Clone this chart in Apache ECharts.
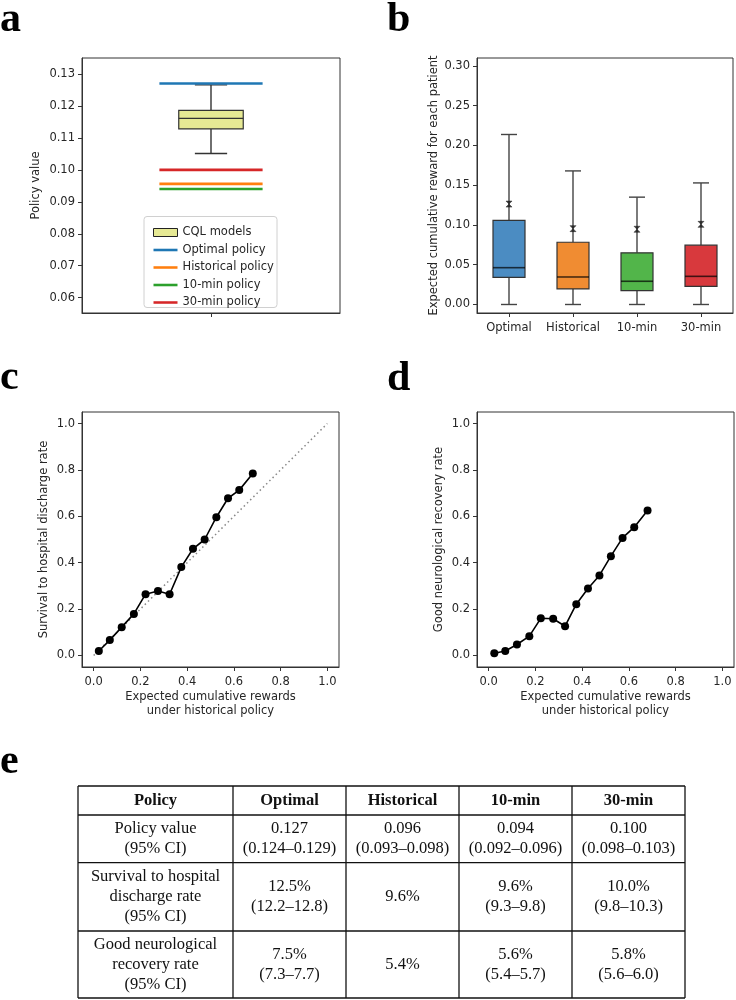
<!DOCTYPE html>
<html><head><meta charset="utf-8">
<script src="https://cdn.jsdelivr.net/npm/echarts@6/dist/echarts.min.js"></script>
<style>html,body{margin:0;padding:0;background:#fff}#c{width:736px;height:1000px}</style>
</head><body><div id="c"></div>
<script>
// ---------- data ----------
// panel a: CQL models box (lower whisker, q1, median, q3, upper whisker)
const cqlBox = [0.1051, 0.1128, 0.1161, 0.1186, 0.1266];
const policyNames = ['Optimal policy', 'Historical policy', '10-min policy', '30-min policy'];
const policyValues = [0.1270, 0.0956, 0.0940, 0.1000];
const aTicks = [0.06, 0.07, 0.08, 0.09, 0.10, 0.11, 0.12, 0.13];

// panel b
const bCategories = ['Optimal', 'Historical', '10-min', '30-min'];
const bLower = [0, 0, 0, 0];
const bQ1 = [0.0342, 0.0196, 0.0175, 0.0229];
const bMedian = [0.0463, 0.0346, 0.0292, 0.0354];
const bQ3 = [0.1058, 0.0783, 0.0650, 0.0746];
const bUpper = [0.2138, 0.1680, 0.1350, 0.1529];
const bMean = [0.1263, 0.0954, 0.0946, 0.1008];
const bTicks = [0, 0.05, 0.10, 0.15, 0.20, 0.25, 0.30];

// panel c
const cX = [0.022, 0.069, 0.120, 0.172, 0.222, 0.275, 0.325, 0.375, 0.425, 0.475, 0.525, 0.575, 0.623, 0.681];
const cY = [0.019, 0.066, 0.122, 0.179, 0.264, 0.278, 0.264, 0.381, 0.460, 0.500, 0.596, 0.678, 0.713, 0.785];
// panel d
const dX = [0.024, 0.071, 0.121, 0.174, 0.223, 0.276, 0.327, 0.375, 0.425, 0.474, 0.523, 0.573, 0.623, 0.680];
const dY = [0.009, 0.019, 0.047, 0.083, 0.160, 0.158, 0.126, 0.221, 0.289, 0.345, 0.428, 0.507, 0.553, 0.625];
const unitTicks = [0, 0.2, 0.4, 0.6, 0.8, 1.0];
const diagonal = [[0, 0], [1, 1]];

// panel e table
const tableHeader = ['Policy', 'Optimal', 'Historical', '10-min', '30-min'];
const rowLabels = ['Policy value\n(95% CI)', 'Survival to hospital\ndischarge rate\n(95% CI)', 'Good neurological\nrecovery rate\n(95% CI)'];
const rowPolicyValue = ['0.127\n(0.124–0.129)', '0.096\n(0.093–0.098)', '0.094\n(0.092–0.096)', '0.100\n(0.098–0.103)'];
const rowSurvival = ['12.5%\n(12.2–12.8)', '9.6%', '9.6%\n(9.3–9.8)', '10.0%\n(9.8–10.3)'];
const rowNeuro = ['7.5%\n(7.3–7.7)', '5.4%', '5.6%\n(5.4–5.7)', '5.8%\n(5.6–6.0)'];

// ---------- styles ----------
const policyColors = ['#1f77b4', '#ff7f0e', '#2ca02c', '#d62728'];
const boxColors = ['#4b8cc2', '#f08c32', '#52b54a', '#d8393d'];
const cqlColor = '#e6e994';
const ink = '#262626';
const FONT = 'DejaVu Sans';
const SERIF = 'Liberation Serif';
const FS = 11.5;

const chart = echarts.init(document.getElementById('c'), null, {renderer: 'canvas'});

function axisBase(extra) {
  return Object.assign({
    axisLine: {show: true, onZero: false, lineStyle: {color: '#333', width: 1}},
    axisTick: {show: true, length: 4, lineStyle: {color: '#333'}},
    axisLabel: {color: ink, fontFamily: FONT, fontSize: FS, margin: 7},
    splitLine: {show: false},
    nameTextStyle: {color: ink, fontFamily: FONT, fontSize: FS}
  }, extra);
}
function valueAxis(grid, min, max, ticks, digits, extra) {
  const a = axisBase(extra);
  a.type = 'value'; a.gridIndex = grid; a.min = min; a.max = max;
  a.axisTick.customValues = ticks;
  a.axisLabel.customValues = ticks;
  a.axisLabel.formatter = v => v.toFixed(digits);
  return a;
}

// panel a box
function renderBoxA(params, api) {
  const x = api.value(0);
  const lo = api.value(1), q1 = api.value(2), med = api.value(3), q3 = api.value(4), hi = api.value(5);
  const hw = 0.125, cw = 0.0625;
  const L = api.coord([x - hw, q3]), R = api.coord([x + hw, q1]);
  const mL = api.coord([x - hw, med]), mR = api.coord([x + hw, med]);
  const c = api.coord([x, hi]), cq3 = api.coord([x, q3]), cq1 = api.coord([x, q1]), cl = api.coord([x, lo]);
  const capL = api.coord([x - cw, hi]), capR = api.coord([x + cw, hi]);
  const capL2 = api.coord([x - cw, lo]), capR2 = api.coord([x + cw, lo]);
  const ls = {stroke: '#333', lineWidth: 1.4};
  return {type: 'group', children: [
    {type: 'line', shape: {x1: c[0], y1: c[1], x2: cq3[0], y2: cq3[1]}, style: ls},
    {type: 'line', shape: {x1: cq1[0], y1: cq1[1], x2: cl[0], y2: cl[1]}, style: ls},
    {type: 'line', shape: {x1: capL[0], y1: capL[1], x2: capR[0], y2: capR[1]}, style: ls},
    {type: 'line', shape: {x1: capL2[0], y1: capL2[1], x2: capR2[0], y2: capR2[1]}, style: ls},
    {type: 'rect', shape: {x: L[0], y: L[1], width: R[0] - L[0], height: R[1] - L[1]}, style: {fill: cqlColor, stroke: '#333', lineWidth: 1.2}},
    {type: 'line', shape: {x1: mL[0], y1: mL[1], x2: mR[0], y2: mR[1]}, style: ls}
  ]};
}
// panel b boxes
function renderBoxB(params, api) {
  const i = api.value(0);
  const lo = api.value(1), q1 = api.value(2), med = api.value(3), q3 = api.value(4), hi = api.value(5);
  const band = api.size([1, 0])[0];
  const hw = band * 0.25, cw = band * 0.125;
  const cHi = api.coord([i, hi]), cQ3 = api.coord([i, q3]), cMed = api.coord([i, med]), cQ1 = api.coord([i, q1]), cLo = api.coord([i, lo]);
  const x = cHi[0];
  const ls = {stroke: '#444', lineWidth: 1.4};
  return {type: 'group', children: [
    {type: 'line', shape: {x1: x, y1: cHi[1], x2: x, y2: cQ3[1]}, style: ls},
    {type: 'line', shape: {x1: x, y1: cQ1[1], x2: x, y2: cLo[1]}, style: ls},
    {type: 'line', shape: {x1: x - cw, y1: cHi[1], x2: x + cw, y2: cHi[1]}, style: ls},
    {type: 'line', shape: {x1: x - cw, y1: cLo[1], x2: x + cw, y2: cLo[1]}, style: ls},
    {type: 'rect', shape: {x: x - hw, y: cQ3[1], width: 2 * hw, height: cQ1[1] - cQ3[1]}, style: {fill: boxColors[params.dataIndex], stroke: '#333', lineWidth: 1.2}},
    {type: 'line', shape: {x1: x - hw, y1: cMed[1], x2: x + hw, y2: cMed[1]}, style: {stroke: 'rgba(0,0,0,0.7)', lineWidth: 1.6}}
  ]};
}

const hourglass = 'path://M0,0 L10,0 L0,10 L10,10 Z';

const series = [];
series.push({
  type: 'custom', name: 'CQL models', xAxisIndex: 0, yAxisIndex: 0,
  itemStyle: {color: cqlColor},
  renderItem: renderBoxA,
  encode: {x: 0, y: [1, 2, 3, 4, 5]},
  data: [[1].concat(cqlBox)], z: 3
});
policyNames.forEach((n, k) => {
  series.push({
    type: 'line', name: n, xAxisIndex: 0, yAxisIndex: 0, symbol: 'none',
    color: policyColors[k],
    lineStyle: {width: 2.6, color: policyColors[k]},
    data: [[0.8, policyValues[k]], [1.2, policyValues[k]]], z: 4, silent: true
  });
});
series.push({
  type: 'custom', xAxisIndex: 1, yAxisIndex: 1,
  renderItem: renderBoxB,
  encode: {x: 0, y: [1, 2, 3, 4, 5]},
  data: bCategories.map((c, i) => [i, bLower[i], bQ1[i], bMedian[i], bQ3[i], bUpper[i]])
});
series.push({
  type: 'scatter', xAxisIndex: 1, yAxisIndex: 1, symbol: hourglass, symbolSize: [6, 6],
  itemStyle: {color: '#1a1a1a', borderColor: '#1a1a1a', borderWidth: 0.6},
  data: bCategories.map((c, i) => [i, bMean[i]]), z: 5
});
series.push({
  type: 'line', xAxisIndex: 2, yAxisIndex: 2, symbol: 'none',
  lineStyle: {color: '#888', width: 1.5, type: [1.5, 3]},
  data: diagonal, z: 1, silent: true
});
series.push({
  type: 'line', xAxisIndex: 2, yAxisIndex: 2, symbol: 'circle', symbolSize: 8,
  itemStyle: {color: '#000'}, lineStyle: {color: '#000', width: 1.6},
  data: cX.map((x, i) => [x, cY[i]]), z: 3
});
series.push({
  type: 'line', xAxisIndex: 3, yAxisIndex: 3, symbol: 'circle', symbolSize: 8,
  itemStyle: {color: '#000'}, lineStyle: {color: '#000', width: 1.6},
  data: dX.map((x, i) => [x, dY[i]]), z: 3
});

// table graphics
const colX = [78, 233, 346, 459, 572, 685];
const rowY = [786, 815, 862.7, 931, 998];
const graphics = [];
rowY.forEach(y => graphics.push({type: 'line', shape: {x1: colX[0], y1: y, x2: colX[5], y2: y}, style: {stroke: '#111', lineWidth: 1.3}}));
colX.forEach(x => graphics.push({type: 'line', shape: {x1: x, y1: rowY[0], x2: x, y2: rowY[4]}, style: {stroke: '#111', lineWidth: 1.3}}));
const tableRows = [tableHeader, [rowLabels[0]].concat(rowPolicyValue), [rowLabels[1]].concat(rowSurvival), [rowLabels[2]].concat(rowNeuro)];
tableRows.forEach((row, r) => {
  row.forEach((txt, c) => {
    graphics.push({type: 'text', x: (colX[c] + colX[c + 1]) / 2, y: (rowY[r] + rowY[r + 1]) / 2,
      style: {text: txt, align: 'center', verticalAlign: 'middle', fontFamily: SERIF, fontSize: 16.5,
        fontWeight: r === 0 ? 'bold' : 'normal', lineHeight: 20, fill: '#111'}});
  });
});
// panel letters
[['a', 0, 20.4], ['b', 387, 20.4], ['c', 0, 378.4], ['d', 387, 379.4], ['e', 0, 762.4]].forEach(p => {
  graphics.push({type: 'text', x: p[1], y: p[2], style: {text: p[0], fontFamily: SERIF, fontWeight: 'bold', fontSize: 42, fill: '#000', align: 'left', verticalAlign: 'middle'}});
});
// legend frame
graphics.push({type: 'rect', z: 3, shape: {x: 144, y: 216.5, width: 133, height: 91, r: 3}, style: {fill: 'rgba(255,255,255,0.85)', stroke: '#d0d0d0', lineWidth: 1}});

const lineIcon = 'path://M0,0 L30,0 L30,3.2 L0,3.2 Z';

function xValueAxis(grid) {
  const a = valueAxis(grid, -0.05, 1.05, unitTicks, 1, {name: 'Expected cumulative rewards\nunder historical policy', nameLocation: 'middle', nameGap: 23});
  a.axisLabel.margin = 9;
  a.nameTextStyle.lineHeight = 14;
  return a;
}

const option = {
  backgroundColor: '#fff',
  animation: false,
  grid: [
    {left: 82, top: 58, width: 258, height: 255, show: true, borderColor: '#333', borderWidth: 1, backgroundColor: 'transparent'},
    {left: 477, top: 58, width: 256, height: 255, show: true, borderColor: '#333', borderWidth: 1, backgroundColor: 'transparent'},
    {left: 82, top: 412, width: 257, height: 255, show: true, borderColor: '#333', borderWidth: 1, backgroundColor: 'transparent'},
    {left: 477, top: 412, width: 257, height: 255, show: true, borderColor: '#333', borderWidth: 1, backgroundColor: 'transparent'}
  ],
  xAxis: [
    (function () { const a = valueAxis(0, 0.5, 1.5, [1], 0); a.axisLabel.show = false; return a; })(),
    (function () {
      const a = axisBase({type: 'category', gridIndex: 1, data: bCategories, axisTick: {show: true, alignWithLabel: true, length: 4, lineStyle: {color: '#333'}}});
      a.axisLabel.interval = 0; a.axisLabel.hideOverlap = false; a.axisLabel.margin = 9; return a;
    })(),
    xValueAxis(2),
    xValueAxis(3)
  ],
  yAxis: [
    valueAxis(0, 0.0552, 0.135, aTicks, 2, {name: 'Policy value', nameLocation: 'middle', nameGap: 40, nameRotate: 90}),
    valueAxis(1, -0.0107, 0.31, bTicks, 2, {name: 'Expected cumulative reward for each patient', nameLocation: 'middle', nameGap: 37, nameRotate: 90}),
    valueAxis(2, -0.05, 1.05, unitTicks, 1, {name: 'Survival to hospital discharge rate', nameLocation: 'middle', nameGap: 32, nameRotate: 90}),
    valueAxis(3, -0.05, 1.05, unitTicks, 1, {name: 'Good neurological recovery rate', nameLocation: 'middle', nameGap: 32, nameRotate: 90})
  ],
  legend: {
    left: 148, top: 221, orient: 'vertical', itemWidth: 24, itemHeight: 8, itemGap: 4.5,
    selectedMode: false, z: 6,
    textStyle: {color: ink, fontFamily: FONT, fontSize: FS, lineHeight: 13},
    data: [{name: 'CQL models', icon: 'rect', itemStyle: {color: cqlColor, borderColor: '#222', borderWidth: 1}}]
      .concat(policyNames.map(n => ({name: n, icon: lineIcon})))
  },
  graphic: graphics,
  series: series
};
chart.setOption(option);
</script>
</body></html>
